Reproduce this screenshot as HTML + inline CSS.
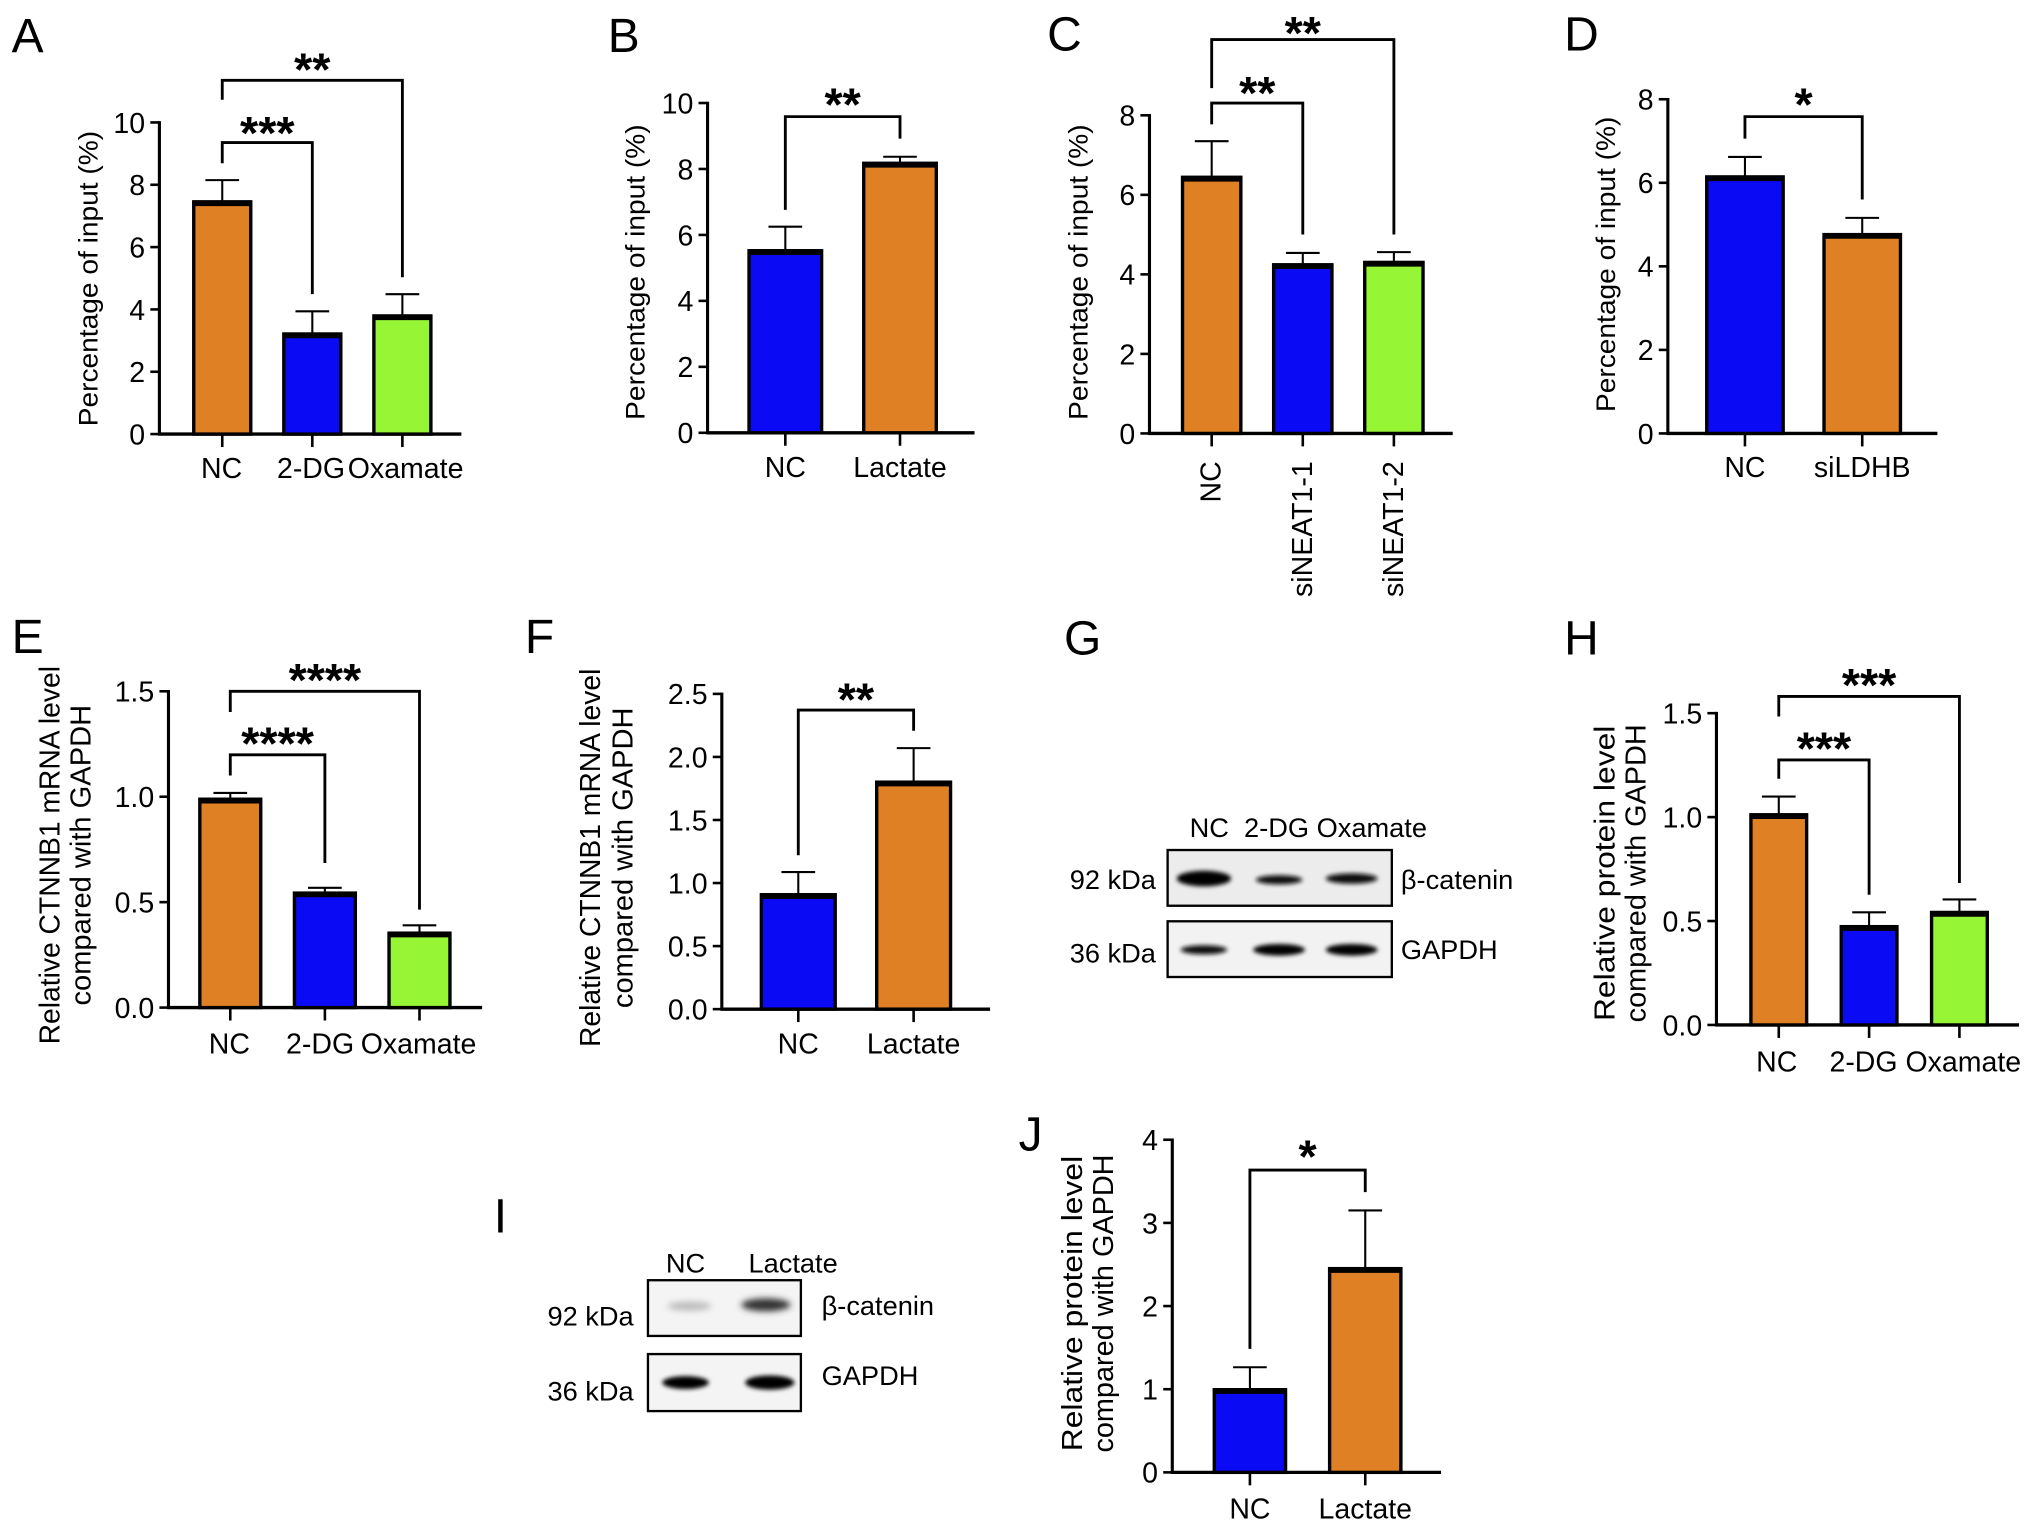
<!DOCTYPE html>
<html><head><meta charset="utf-8"><style>
html,body{margin:0;padding:0;background:#fff;}
svg{display:block;font-family:"Liberation Sans",Arial,sans-serif;}
</style></head><body>
<svg id="fig" width="2032" height="1529" viewBox="0 0 1568 1180" preserveAspectRatio="none" xmlns="http://www.w3.org/2000/svg">
<defs><filter id="blur" x="-50%" y="-100%" width="200%" height="300%"><feGaussianBlur stdDeviation="1.6"/></filter>
<filter id="blur2" x="-50%" y="-100%" width="200%" height="300%"><feGaussianBlur stdDeviation="2.5"/></filter></defs>
<g id="blots">
  <g>
    <text x="918" y="646" font-size="21">NC&#160;&#160;2-DG Oxamate</text>
    <rect x="901" y="656" width="173" height="43" fill="#ececec" stroke="#000" stroke-width="1.8"/>
    <ellipse cx="929" cy="678" rx="21" ry="6" fill="#000" filter="url(#blur)"/>
    <ellipse cx="987" cy="679" rx="18" ry="3.5" fill="#111" filter="url(#blur)"/>
    <ellipse cx="1043" cy="678" rx="20" ry="4" fill="#111" filter="url(#blur)"/>
    <rect x="901" y="711" width="173" height="43" fill="#f2f2f2" stroke="#000" stroke-width="1.8"/>
    <ellipse cx="929" cy="733" rx="18" ry="3.5" fill="#111" filter="url(#blur)"/>
    <ellipse cx="987" cy="733" rx="20" ry="4.5" fill="#000" filter="url(#blur)"/>
    <ellipse cx="1043" cy="733" rx="20" ry="4.5" fill="#000" filter="url(#blur)"/>
    <text x="892" y="686" font-size="21" text-anchor="end">92 kDa</text>
    <text x="892" y="743" font-size="21" text-anchor="end">36 kDa</text>
    <text x="1081" y="686" font-size="21">β-catenin</text>
    <text x="1081" y="740" font-size="21">GAPDH</text>
  </g>
  <g>
    <text x="529" y="982" font-size="21" text-anchor="middle">NC</text>
    <text x="612" y="982" font-size="21" text-anchor="middle">Lactate</text>
    <rect x="500" y="988" width="118" height="43" fill="#f4f4f4" stroke="#000" stroke-width="1.8"/>
    <ellipse cx="532" cy="1008" rx="17" ry="3.5" fill="#bbb" filter="url(#blur2)"/>
    <ellipse cx="591" cy="1007" rx="19" ry="5" fill="#333" filter="url(#blur2)"/>
    <rect x="500" y="1045" width="118" height="44" fill="#f4f4f4" stroke="#000" stroke-width="1.8"/>
    <ellipse cx="529" cy="1067" rx="18" ry="5" fill="#000" filter="url(#blur)"/>
    <ellipse cx="594" cy="1067" rx="19" ry="5.5" fill="#000" filter="url(#blur)"/>
    <text x="489" y="1023" font-size="21" text-anchor="end">92 kDa</text>
    <text x="489" y="1081" font-size="21" text-anchor="end">36 kDa</text>
    <text x="634" y="1015" font-size="21">β-catenin</text>
    <text x="634" y="1069" font-size="21">GAPDH</text>
  </g>
</g>
<g id="letters" font-size="37">
  <text x="9" y="40">A</text>
  <text x="469" y="40">B</text>
  <text x="808" y="39">C</text>
  <text x="1207" y="39">D</text>
  <text x="9" y="504">E</text>
  <text x="405" y="504">F</text>
  <text x="821" y="505">G</text>
  <text x="1207" y="505">H</text>
  <text x="381" y="951">I</text>
  <text x="786" y="888">J</text>
</g>
</svg>
<script>
const aCats = ["NC","2-DG","Oxamate"];
const aVals = [7.45, 3.21, 3.79];
const aErrs = [0.70, 0.73, 0.70];
const aTicks = [0,2,4,6,8,10];
const aTickLabels = ["0","2","4","6","8","10"];

const bCats = ["NC","Lactate"];
const bVals = [5.52, 8.17];
const bErrs = [0.73, 0.20];
const bTicks = [0,2,4,6,8,10];
const bTickLabels = ["0","2","4","6","8","10"];

const cCats = ["NC","siNEAT1-1","siNEAT1-2"];
const cVals = [6.44, 4.24, 4.30];
const cErrs = [0.91, 0.30, 0.26];
const cTicks = [0,2,4,6,8];
const cTickLabels = ["0","2","4","6","8"];

const dCats = ["NC","siLDHB"];
const dVals = [6.14, 4.76];
const dErrs = [0.48, 0.40];
const dTicks = [0,2,4,6,8];
const dTickLabels = ["0","2","4","6","8"];

const eCats = ["NC","2-DG","Oxamate"];
const eVals = [0.988, 0.543, 0.353];
const eErrs = [0.030, 0.025, 0.037];
const eTicks = [0,0.5,1.0,1.5];
const eTickLabels = ["0.0","0.5","1.0","1.5"];

const fCats = ["NC","Lactate"];
const fVals = [0.907, 1.80];
const fErrs = [0.18, 0.27];
const fTicks = [0,0.5,1.0,1.5,2.0,2.5];
const fTickLabels = ["0.0","0.5","1.0","1.5","2.0","2.5"];

const hCats = ["NC","2-DG","Oxamate"];
const hVals = [1.011, 0.473, 0.541];
const hErrs = [0.088, 0.069, 0.063];
const hTicks = [0,0.5,1.0,1.5];
const hTickLabels = ["0.0","0.5","1.0","1.5"];

const jCats = ["NC","Lactate"];
const jVals = [0.994, 2.45];
const jErrs = [0.27, 0.70];
const jTicks = [0,1,2,3,4];
const jTickLabels = ["0","1","2","3","4"];

const aStars = ["***","**"];
const bStars = ["**"];
const cStars = ["**","**"];
const dStars = ["*"];
const eStars = ["****","****"];
const fStars = ["**"];
const hStars = ["***","***"];
const jStars = ["*"];

const ORANGE="#E08024", BLUE="#0A0AF5", GREEN="#96F534";
const NS="http://www.w3.org/2000/svg";
const svg=document.getElementById('fig');

function mk(tag, attrs, parent){
  const el=document.createElementNS(NS,tag);
  for(const k in attrs) el.setAttribute(k, attrs[k]);
  parent.appendChild(el);
  return el;
}

function drawChart(p){
  const g=mk('g',{},svg);
  
  
  const maxV=p.ticks[p.ticks.length-1];
  const y=v=>p.y0 - v/maxV*(p.y0-p.yTop);
  const ya=mk('line',{x1:p.ax,y1:y(maxV)-1,x2:p.ax,y2:p.y0,stroke:'#000','stroke-width':2.4},g);
  
  
  p.ticks.forEach((t,i)=>{
    const tk=mk('line',{x1:p.ax-7,y1:y(t),x2:p.ax,y2:y(t),stroke:'#000','stroke-width':2},g);
    
    
    const tl=mk('text',{x:p.ax-11,y:y(t)+8,'font-size':22,'text-anchor':'end'},g);
    tl.textContent=p.tickLabels[i];
    
    
  });
  const xa=mk('line',{x1:p.ax-1,y1:p.y0,x2:p.xEnd,y2:p.y0,stroke:'#000','stroke-width':2.6},g);
  
  
  p.cats.forEach((c,i)=>{
    const cx=p.x0+i*p.step, w=p.bw, top=y(p.vals[i]);
    const et=y(p.vals[i]+p.errs[i]);
    const eb=mk('line',{x1:cx,y1:top,x2:cx,y2:et,stroke:'#000','stroke-width':1.6},g);
    
    
    const cap=mk('line',{x1:cx-13,y1:et,x2:cx+13,y2:et,stroke:'#000','stroke-width':1.6},g);
    
    
    const r=mk('rect',{x:cx-w/2,y:top,width:w,height:p.y0-top,fill:p.colors[i],stroke:'#000','stroke-width':2.6},g);
    
    
    const tl=mk('line',{x1:cx-w/2-1,y1:top+1,x2:cx+w/2+1,y2:top+1,stroke:'#000','stroke-width':4.5},g);
    
    
    const xt=mk('line',{x1:cx,y1:p.y0,x2:cx,y2:p.y0+10,stroke:'#000','stroke-width':2},g);
    
    
    let lab;
    if(p.rotLabels){
      lab=mk('text',{transform:'translate('+cx+','+p.labY+') rotate(-90)','font-size':22,'text-anchor':'end','dominant-baseline':'central'},g);
    } else {
      const lx = p.labX ? p.labX[i] : cx;
      lab=mk('text',{x:lx,y:p.labY,'font-size':22,'text-anchor':'middle'},g);
    }
    lab.textContent=c;
    
    
  });
  p.title.forEach((t,k)=>{
    const tt=mk('text',{transform:'translate('+p.titleX[k]+','+p.titleY+') rotate(-90)','font-size':p.titleFs||21,'text-anchor':'middle','dominant-baseline':'central'},g);
    if(p.titleLen) { tt.setAttribute('textLength', p.titleLen[k]); tt.setAttribute('lengthAdjust','spacingAndGlyphs'); }
    tt.textContent=t;
    
    
  });
  p.brackets.forEach((b,k)=>{
    const xl=p.x0+b.i*p.step, xr=p.x0+b.j*p.step;
    const pl=mk('polyline',{points:xl+','+b.l+' '+xl+','+b.y+' '+xr+','+b.y+' '+xr+','+b.r,fill:'none',stroke:'#000','stroke-width':2.2},g);
    
    
    const st=mk('text',{x:(xl+xr)/2,y:b.s+20,'font-size':36,'font-weight':'bold','text-anchor':'middle'},g);
    st.textContent=p.stars[k];
    
    
  });
}

const pctTitle=["Percentage of input (%)"];
drawChart({id:'a',cats:aCats,vals:aVals,errs:aErrs,ticks:aTicks,tickLabels:aTickLabels,stars:aStars,
  ax:123,y0:335,yTop:94.5,xEnd:356,x0:171.5,step:69.5,bw:44,colors:[ORANGE,BLUE,GREEN],labY:369,
  labX:[171,240,313],
  title:pctTitle,titleX:[68],titleY:215,titleLen:[228],
  brackets:[{i:0,j:1,y:110,l:126,r:227,s:95},{i:0,j:2,y:62,l:77,r:214,s:46}]});
drawChart({id:'b',cats:bCats,vals:bVals,errs:bErrs,ticks:bTicks,tickLabels:bTickLabels,stars:bStars,
  ax:546,y0:334,yTop:79.5,xEnd:752,x0:606,step:88.5,bw:56,colors:[BLUE,ORANGE],labY:368,
  title:pctTitle,titleX:[490],titleY:210,titleLen:[228],
  brackets:[{i:0,j:1,y:90,l:162,r:107,s:73}]});
drawChart({id:'c',cats:cCats,vals:cVals,errs:cErrs,ticks:cTicks,tickLabels:cTickLabels,stars:cStars,
  ax:887,y0:334.5,yTop:89,xEnd:1121,x0:935,step:70.3,bw:45,colors:[ORANGE,BLUE,GREEN],labY:356,rotLabels:true,
  title:pctTitle,titleX:[832],titleY:210,titleLen:[228],
  brackets:[{i:0,j:1,y:79.5,l:96,r:181,s:64},{i:0,j:2,y:30.5,l:68,r:181,s:18}]});
drawChart({id:'d',cats:dCats,vals:dVals,errs:dErrs,ticks:dTicks,tickLabels:dTickLabels,stars:dStars,
  ax:1287,y0:334.5,yTop:76.6,xEnd:1495,x0:1346.5,step:90.5,bw:59,colors:[BLUE,ORANGE],labY:368,
  title:pctTitle,titleX:[1239],titleY:204,titleLen:[228],
  brackets:[{i:0,j:1,y:90,l:107,r:154,s:73}]});
drawChart({id:'e',cats:eCats,vals:eVals,errs:eErrs,ticks:eTicks,tickLabels:eTickLabels,stars:eStars,
  ax:130,y0:777.6,yTop:533.5,xEnd:372,x0:177.7,step:73,bw:47,colors:[ORANGE,BLUE,GREEN],labY:813,
  labX:[177,247,323],titleFs:22,
  title:["Relative CTNNB1 mRNA level","compared with GAPDH"],titleX:[39,63],titleY:660,titleLen:[292,232],
  brackets:[{i:0,j:1,y:582.5,l:598.5,r:666,s:566},{i:0,j:2,y:533.5,l:549.5,r:702,s:517}]});
drawChart({id:'f',cats:fCats,vals:fVals,errs:fErrs,ticks:fTicks,tickLabels:fTickLabels,stars:fStars,
  ax:557,y0:778.8,yTop:535.5,xEnd:764,x0:616,step:89,bw:57,colors:[BLUE,ORANGE],labY:813,titleFs:22,
  title:["Relative CTNNB1 mRNA level","compared with GAPDH"],titleX:[456,481],titleY:662,titleLen:[292,232],
  brackets:[{i:0,j:1,y:548,l:660,r:564,s:532}]});
drawChart({id:'h',cats:hCats,vals:hVals,errs:hErrs,ticks:hTicks,tickLabels:hTickLabels,stars:hStars,
  ax:1324.5,y0:791,yTop:550.4,xEnd:1558,x0:1372.6,step:69.7,bw:43,colors:[ORANGE,BLUE,GREEN],labY:827,
  labX:[1371,1438,1515],titleFs:22,
  title:["Relative protein level","compared with GAPDH"],titleX:[1239,1263],titleY:674,titleLen:[228,230],
  brackets:[{i:0,j:1,y:586.5,l:601,r:690.5,s:570},{i:0,j:2,y:537.5,l:553,r:681.5,s:521}]});
drawChart({id:'j',cats:jCats,vals:jVals,errs:jErrs,ticks:jTicks,tickLabels:jTickLabels,stars:jStars,
  ax:904.6,y0:1136.3,yTop:879.6,xEnd:1112,x0:964.5,step:89,bw:55,colors:[BLUE,ORANGE],labY:1172,titleFs:22,
  title:["Relative protein level","compared with GAPDH"],titleX:[828,852],titleY:1006,titleLen:[228,230],
  brackets:[{i:0,j:1,y:903,l:1041,r:920,s:885}]});
</script>
</body></html>
